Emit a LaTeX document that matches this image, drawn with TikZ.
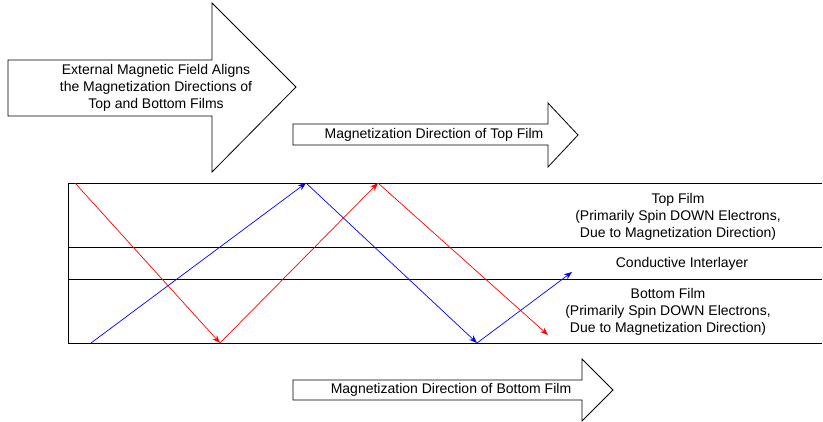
\documentclass[tikz,border=0pt]{standalone}
\usepackage{fontspec}
\setmainfont{Liberation Sans}
\usetikzlibrary{arrows.meta}
\begin{document}
\begin{tikzpicture}[x=1pt,y=-1pt,
  shapeline/.style={draw=black,line width=0.8pt,fill=white,line join=miter},
  layerline/.style={draw=black,line width=1pt},
  ray/.style={line width=0.7pt,-{Stealth[length=8pt,width=6pt]}},
  lbl/.style={font=\fontsize{14}{17}\selectfont,align=center,inner sep=0pt}]
\useasboundingbox (0,0) rectangle (823,421);
% big field arrow
\draw[shapeline] (8,60) -- (212,60) -- (212,3) -- (296,87) -- (212,172) -- (212,116) -- (8,116) -- cycle;
\node[lbl] (field) at (156,88) {External Magnetic Field Aligns\\the Magnetization Directions of\\Top and Bottom Films};
% top film magnetization arrow
\draw[shapeline] (293,124) -- (548,124) -- (548,103) -- (578,135) -- (548,167) -- (548,145) -- (293,145) -- cycle;
\node[lbl] (topdir) at (434,135) {Magnetization Direction of Top Film};
% bottom film magnetization arrow
\draw[shapeline] (293,380) -- (582,380) -- (582,359) -- (613,390) -- (582,421) -- (582,400) -- (293,400) -- cycle;
\node[lbl] (botdir) at (451,390) {Magnetization Direction of Bottom Film};
% layers
\draw[layerline] (822,183) -- (68,183) -- (68,343) -- (822,343);
\draw[layerline] (68,247) -- (822,247);
\draw[layerline] (68,279) -- (822,279);
\node[lbl] (top) at (678,217) {Top Film\\(Primarily Spin DOWN Electrons,\\Due to Magnetization Direction)};
\node[lbl] (mid) at (682,264) {Conductive Interlayer};
\node[lbl] (bot) at (668,312) {Bottom Film\\(Primarily Spin DOWN Electrons,\\Due to Magnetization Direction)};
% ray points
\coordinate (r0) at (75,183);
\coordinate (r1) at (220,343);
\coordinate (r2) at (378,183);
\coordinate (r3) at (548,335);
\coordinate (b0) at (91,343);
\coordinate (b1) at (306,183);
\coordinate (b2) at (477,343);
\coordinate (b3) at (572,272);
\draw[ray,red] (r0) -- (r1);
\draw[ray,red] (r1) -- (r2);
\draw[ray,red] (r2) -- (r3);
\draw[ray,blue] (b0) -- (b1);
\draw[ray,blue] (b1) -- (b2);
\draw[ray,blue] (b2) -- (b3);
\end{tikzpicture}
\end{document}
